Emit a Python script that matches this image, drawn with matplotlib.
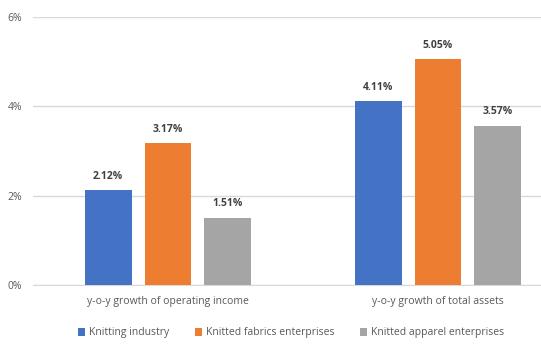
import matplotlib
matplotlib.use("Agg")
import matplotlib.pyplot as plt
import numpy as np

categories = ["y-o-y growth of operating income", "y-o-y growth of total assets"]
series_names = ["Knitting industry", "Knitted fabrics enterprises", "Knitted apparel enterprises"]
knitting_industry = [2.12, 4.11]
knitted_fabrics = [3.17, 5.05]
knitted_apparel = [1.51, 3.57]
yticks = [0, 2, 4, 6]

colors = ["#4472C4", "#ED7D31", "#A5A5A5"]
plt.rcParams['font.family'] = ['Open Sans', 'DejaVu Sans']

W, H = 541, 355
fig = plt.figure(figsize=(W/100, H/100), dpi=100)
ax = fig.add_axes([33/W, (H-285)/H, 540/W, (285-17)/H])

x = np.arange(len(categories))
bw = 0.174
step = 0.222
all_series = [knitting_industry, knitted_fabrics, knitted_apparel]
for i, (vals, name, c) in enumerate(zip(all_series, series_names, colors)):
    xs = x + (i-1)*step
    ax.bar(xs, vals, width=bw, color=c, label=name, zorder=3)
    for xx, v in zip(xs, vals):
        ax.annotate(f"{v:.2f}%", (xx, v), xytext=(0, 6), textcoords="offset points",
                    ha="center", va="bottom", fontsize=7.5, fontweight="bold", color="#404040")

ax.set_xlim(-0.5, 1.5)
ax.set_ylim(0, 6)
ax.set_yticks(yticks)
ax.set_yticklabels([f"{t}%" for t in yticks])
ax.set_xticks(x)
ax.set_xticklabels(categories)
ax.tick_params(axis='both', length=0, labelsize=7.5, labelcolor="#595959")
ax.tick_params(axis='y', pad=8)
ax.tick_params(axis='x', pad=8)
ax.grid(axis='y', color="#D9D9D9", linewidth=1, zorder=0)
for s in ["top", "right", "left"]:
    ax.spines[s].set_visible(False)
ax.spines["bottom"].set_color("#D9D9D9")

fig.legend(loc="center", bbox_to_anchor=(291/W, (H-333)/H), ncol=3, frameon=False,
           fontsize=7.5, handlelength=0.7, handleheight=0.7, handletextpad=0.4,
           columnspacing=2.4, labelcolor="#595959")

fig.savefig("out.png", dpi=100)
